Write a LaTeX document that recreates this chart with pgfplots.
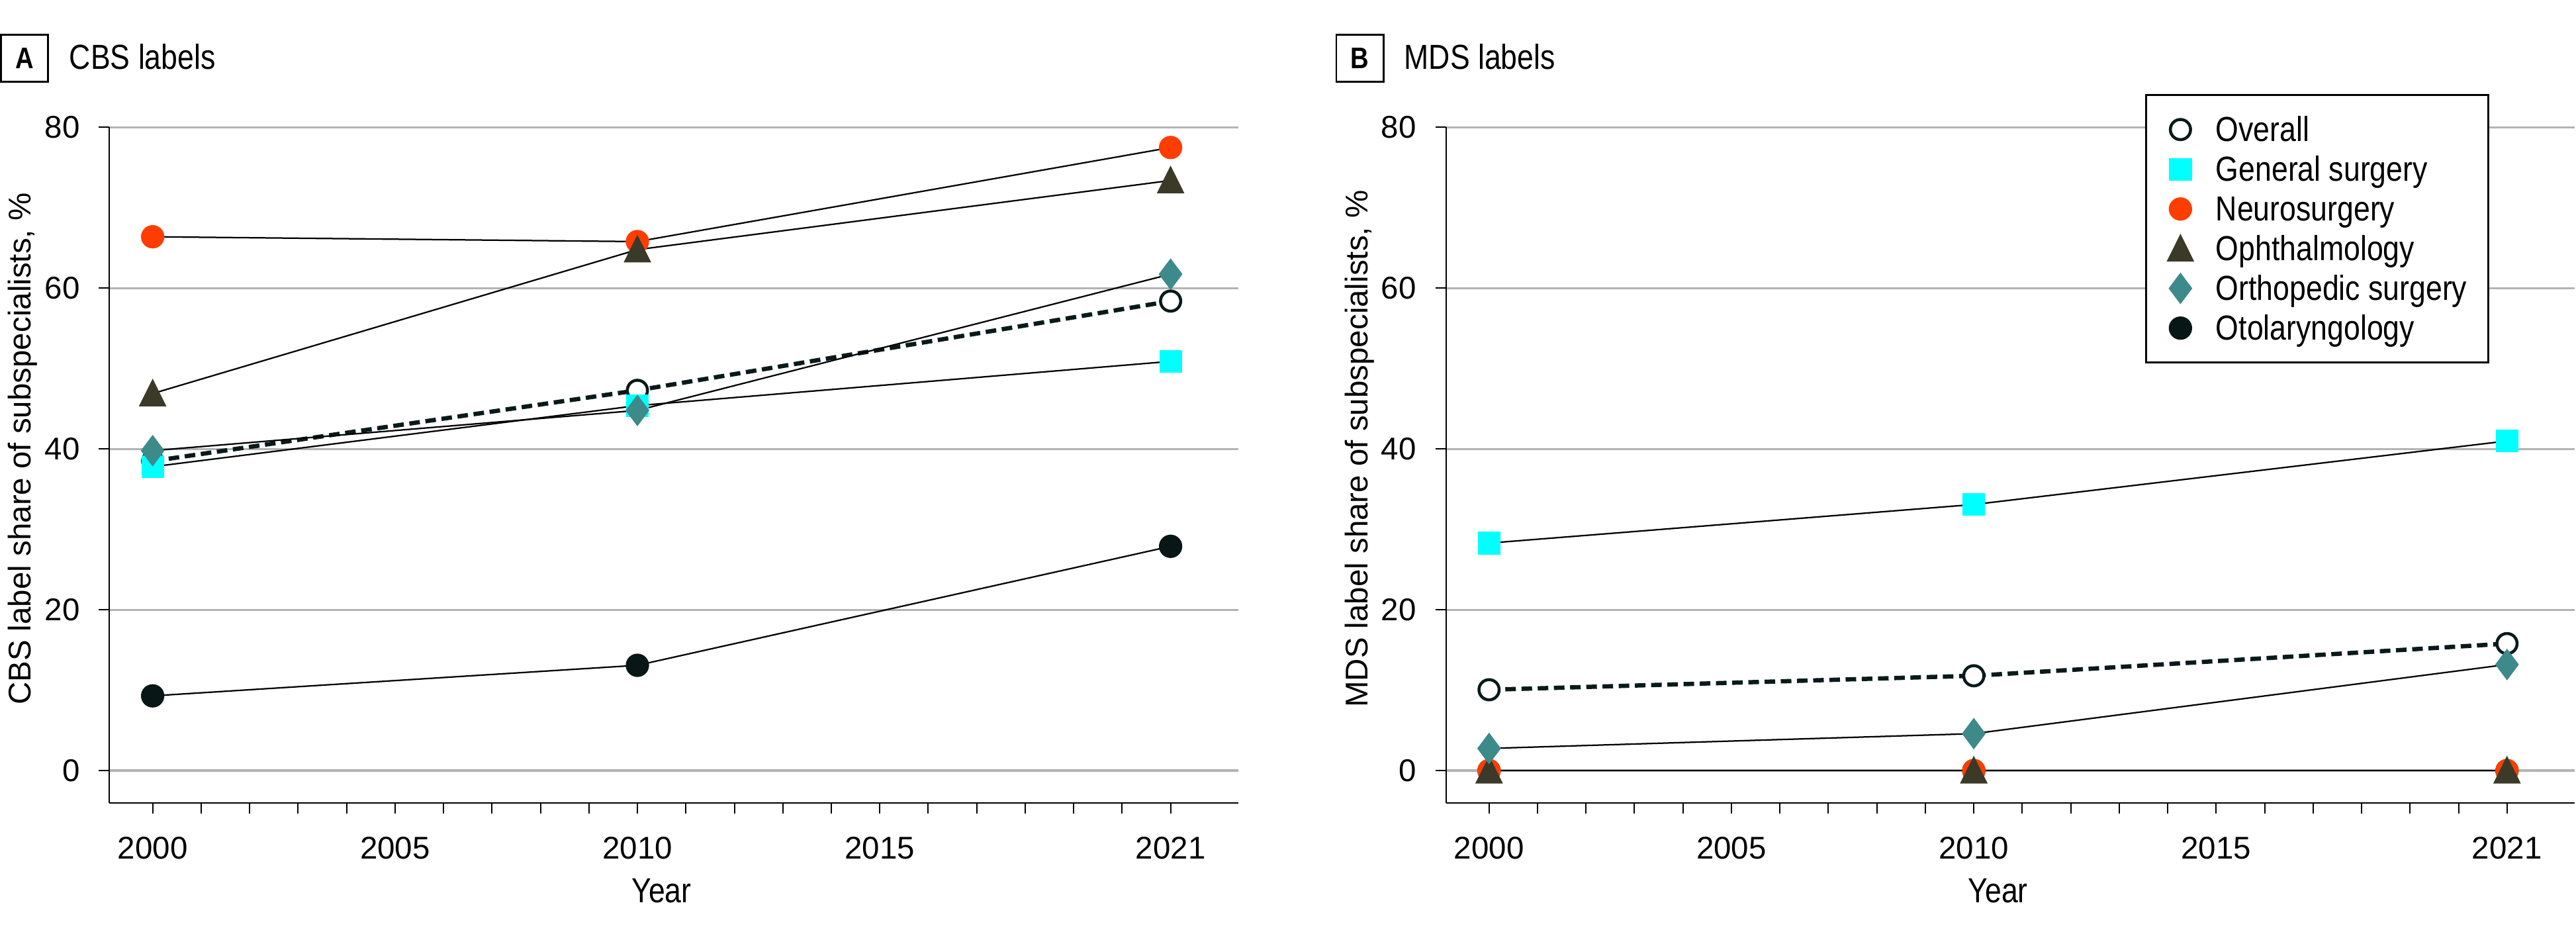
\documentclass[border=0pt]{standalone}
\usepackage{fontspec}
\setmainfont{Liberation Sans}
\newfontfamily\condfont{Liberation Sans}[FakeStretch=0.85]
\usepackage{pgfplots}
\pgfplotsset{compat=1.18}

\definecolor{cOverall}{HTML}{0A1A1A}
\definecolor{cGen}{HTML}{00FFFF}
\definecolor{cNeuro}{HTML}{FF3D00}
\definecolor{cOph}{HTML}{3B3A28}
\definecolor{cOrtho}{HTML}{3C8A8A}
\definecolor{cOto}{HTML}{091616}
\definecolor{gridgray}{HTML}{B3B3B3}

\newcommand{\txt}{\condfont\fontsize{10.5}{12}\selectfont}

\pgfplotsset{
  panel/.style={
    scale only axis, width=341.2pt, height=204.1pt,
    xmin=1999.11, xmax=2022.4, ymin=-4, ymax=80,
    axis x line*=bottom, axis y line*=left,
    axis line style={line width=0.4pt, -},
    every outer x axis line/.append style={-},
    every outer y axis line/.append style={-},
    xtick={2000,2001,...,2021},
    xticklabels={2000,,,,,2005,,,,,2010,,,,,2015,,,,,,2021},
    ytick={0,20,40,60,80},
    tick align=outside,
    major tick length=3.2pt,
    tick style={line width=0.4pt, black},
    ymajorgrids, grid style={line width=0.7pt, gridgray},
    /pgf/number format/assume math mode=true,
    ticklabel style={font=\fontsize{9.5}{11}\selectfont},
    xticklabel style={anchor=base, inner sep=0pt, yshift=-13.8pt},
    yticklabel style={anchor=east, inner sep=0pt, xshift=-5.6pt},
    xlabel={\txt Year},
    xlabel style={at={(axis description cs:0.489,0)}, anchor=base, yshift=-30.1pt, inner sep=0pt},
    ylabel style={font=\fontsize{9.5}{11}\selectfont,
      at={(axis description cs:-0.0695,0.524)}, anchor=base, inner sep=0pt},
    set layers, mark layer=axis foreground,
    clip=false,
    legend image code/.code={\draw[##1] plot[only marks] coordinates {(0pt,0pt)};},
  },
  sOverall/.style={cOverall, line width=1.3pt, dash pattern=on 3.2pt off 1.7pt,
    mark=*, mark size=3.05pt, mark options={solid, fill=white, draw=cOverall, line width=0.9pt}},
  sGen/.style={black, line width=0.45pt, mark=square*, mark size=3.2pt, mark options={solid, cGen}},
  sNeuro/.style={black, line width=0.45pt, mark=*, mark size=3.3pt, mark options={solid, cNeuro}},
  sOph/.style={black, line width=0.45pt, mark=triangle*, mark size=4.4pt,
    mark options={solid, cOph, yshift=-1.1pt, yscale=1.16}},
  sOrtho/.style={black, line width=0.45pt, mark=diamond*, mark size=4.4pt, mark options={solid, cOrtho}},
  sOto/.style={black, line width=0.45pt, mark=*, mark size=3.3pt, mark options={solid, cOto}},
}

\begin{document}
\begin{tikzpicture}

% panel A
\node[draw, line width=0.55pt, minimum width=14.25pt, minimum height=14.25pt, inner sep=0pt]
  at (7.4pt,265.8pt) {};
\node[inner sep=0pt] at (7.4pt,265.8pt) {\condfont\bfseries\fontsize{9}{10}\selectfont A};
\node[anchor=base west, inner sep=0pt] at (20.8pt,262.4pt) {\txt CBS labels};

\begin{axis}[panel, at={(33.1pt,40.8pt)}, anchor=south west,
  ylabel={CBS label share of subspecialists, \%}]
\addplot[sOto, forget plot] coordinates {(2000,9.3) (2010,13.1) (2021,27.9)};
\addplot[sOverall] coordinates {(2000,38.5) (2010,47.3) (2021,58.4)};
\addplot[sGen] coordinates {(2000,37.8) (2010,45.4) (2021,50.9)};
\addplot[sNeuro] coordinates {(2000,66.4) (2010,65.8) (2021,77.5)};
\addplot[sOph] coordinates {(2000,46.9) (2010,64.8) (2021,73.4)};
\addplot[sOrtho] coordinates {(2000,39.8) (2010,44.8) (2021,61.75)};
\end{axis}

% panel B
\node[draw, line width=0.55pt, minimum width=14.25pt, minimum height=14.25pt, inner sep=0pt]
  at (411pt,265.8pt) {};
\node[inner sep=0pt] at (411pt,265.8pt) {\condfont\bfseries\fontsize{9}{10}\selectfont B};
\node[anchor=base west, inner sep=0pt] at (424.2pt,262.4pt) {\txt MDS labels};

\begin{axis}[panel, at={(437.0pt,40.8pt)}, anchor=south west,
  ylabel={MDS label share of subspecialists, \%},
  legend cell align=left,
  legend style={at={(0.9244,1.0495)}, anchor=north east, draw=black, line width=0.6pt,
    fill=white, inner xsep=6.5pt, inner ysep=4.5pt, row sep=0.1pt, column sep=6.9pt,
    nodes={inner sep=0pt, text height=9.6pt, text depth=2.3pt}}]
\addplot[sOto, forget plot] coordinates {(2000,0) (2010,0) (2021,0)};
\addplot[sOverall] coordinates {(2000,10.06) (2010,11.8) (2021,15.8)};
\addlegendentry{\txt Overall}
\addplot[sGen] coordinates {(2000,28.3) (2010,33.1) (2021,41.0)};
\addlegendentry{\txt General surgery}
\addplot[sNeuro] coordinates {(2000,0) (2010,0) (2021,0)};
\addlegendentry{\txt Neurosurgery}
\addplot[sOph] coordinates {(2000,0) (2010,0) (2021,0)};
\addlegendentry{\txt Ophthalmology}
\addplot[sOrtho] coordinates {(2000,2.76) (2010,4.6) (2021,13.2)};
\addlegendentry{\txt Orthopedic surgery}
\addlegendimage{sOto}
\addlegendentry{\txt Otolaryngology}
\end{axis}

\path (0pt,0pt) rectangle (778.4pt,283.4pt);
\end{tikzpicture}
\end{document}
